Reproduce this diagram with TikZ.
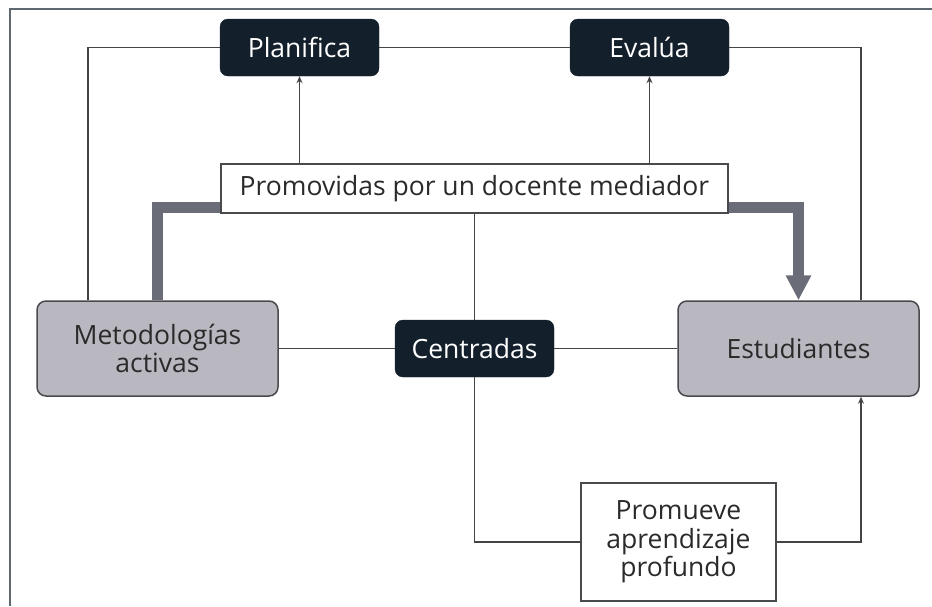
\documentclass[tikz,border=0pt]{standalone}
\usepackage{fontspec}
\setmainfont{Open Sans}
\usetikzlibrary{arrows.meta}
\definecolor{darkbox}{HTML}{13202B}
\definecolor{graybox}{HTML}{B9B8C0}
\definecolor{grayedge}{HTML}{4A4A4E}
\definecolor{thickcol}{HTML}{6A6D77}
\definecolor{framecol}{HTML}{5D6870}
\definecolor{linecol}{HTML}{444444}
\definecolor{txtcol}{HTML}{2A2A2A}
\tikzset{
  x=1pt, y=-1pt,
  base/.style={font=\fontsize{26.5}{28.5}\selectfont, align=center, inner sep=0pt},
  darknode/.style={base, fill=darkbox, draw=darkbox, rounded corners=8pt, text=white, minimum width=159pt, minimum height=57pt},
  graynode/.style={base, fill=graybox, draw=grayedge, line width=1.5pt, rounded corners=9pt, text=txtcol, minimum width=241pt, minimum height=95pt},
  whitenode/.style={base, fill=white, draw=grayedge, line width=1.5pt, text=txtcol},
  conn/.style={draw=linecol, line width=1.6pt},
  arr/.style={conn, -{Stealth[length=7pt,width=6pt]}},
  bigarr/.style={draw=thickcol, line width=11pt, -{Triangle[length=25pt,width=24pt]}},
  bigline/.style={draw=thickcol, line width=11pt},
}
\begin{document}
\begin{tikzpicture}
\useasboundingbox (0,0) rectangle (932,606);
% frame
\draw[framecol, line width=2.5pt] (10,606) -- (10,9) -- (932,9);
% nodes
\node[darknode] (plan) at (299.5,47.5) {Planifica};
\node[darknode] (eva) at (649.5,47.5) {Evalúa};
\node[graynode] (meto) at (157.5,348.5) {Metodologías\\activas};
\node[darknode] (cent) at (474.5,348.5) {Centradas};
\node[graynode] (estu) at (798.5,348.5) {Estudiantes};
\coordinate (xl) at (88,47);
\coordinate (xr) at (861,47);
% thick connectors
\draw[bigline] (meto.north) |- (221,207) coordinate (tle);
\draw[bigarr] (728,207) coordinate (tre) -| (estu.north);
\node[whitenode, minimum width=507pt, minimum height=49pt] (prom) at (474.5,188.5) {Promovidas por un docente mediador};
\node[whitenode, minimum width=195pt, minimum height=118pt] (promu) at (678.5,542) {Promueve\\aprendizaje\\profundo};
% thin connectors
\draw[conn] (meto.north -| xl) |- (plan.west);
\draw[conn] (plan.east) -- (eva.west);
\draw[conn] (eva.east) -| (estu.north -| xr);
\draw[arr] (prom.north -| plan.south) -- (plan.south);
\draw[arr] (prom.north -| eva.south) -- (eva.south);
\draw[conn] (meto.east) -- (cent.west);
\draw[conn] (cent.east) -- (estu.west);
\draw[conn] (prom.south -| cent.north) -- (cent.north);
\draw[conn] (cent.south) |- (promu.west);
\draw[arr] (promu.east) -| (estu.south -| xr);
\end{tikzpicture}
\end{document}
